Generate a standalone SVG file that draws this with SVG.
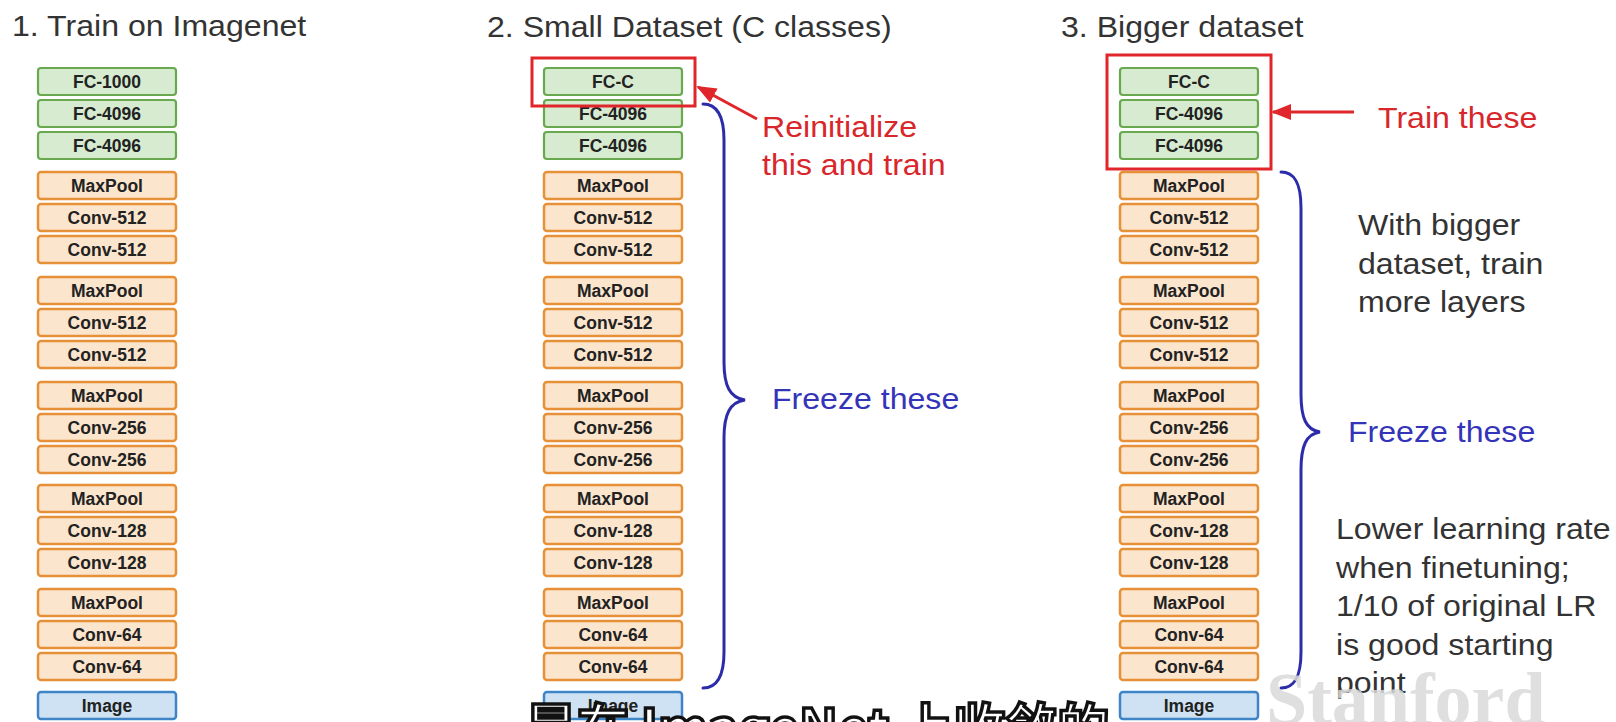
<svg xmlns="http://www.w3.org/2000/svg" width="1616" height="722" viewBox="0 0 1616 722">
<defs>
<style>
.bg{fill:#ffffff}
.fc{fill:#d6ebd0;stroke:#6aa84f;stroke-width:2.2}
.cv{fill:#fce5cd;stroke:#e69138;stroke-width:2.5}
.im{fill:#cfe2f3;stroke:#3d85c6;stroke-width:2.5}
.lbl{font-family:"Liberation Sans",Arial,sans-serif;font-weight:bold;font-size:17.5px;fill:#222;text-anchor:middle}
.big{font-family:"Liberation Sans",Arial,sans-serif;font-size:30px}
.ttl{fill:#333}
.blk{fill:#333}
.red{fill:#d9262b}
.blu{fill:#3434b8}
.redbox{fill:none;stroke:#e0262b;stroke-width:3}
.arrow{stroke:#e0262b;stroke-width:3;fill:none}
.brace{stroke:#2c2caa;stroke-width:3;fill:none;stroke-linecap:round}
</style>
<marker id="redhead" markerUnits="userSpaceOnUse" markerWidth="20" markerHeight="16" refX="18" refY="8" orient="auto">
<path d="M0,0 L20,8 L0,16 z" fill="#e0262b"/>
</marker>
</defs>
<rect class="bg" x="0" y="0" width="1616" height="722"/>

<!-- Titles -->
<g id="titles">
<text class="big ttl" transform="translate(12,36) scale(1.07,1)">1. Train on Imagenet</text>
<text class="big ttl" transform="translate(487,37) scale(1.07,1)">2. Small Dataset (C classes)</text>
<text class="big ttl" transform="translate(1061,37) scale(1.07,1)">3. Bigger dataset</text>
</g>

<!-- Column 1 -->
<g id="col1">
<g id="c1-fc1000"><rect class="fc" x="38" y="68" width="138" height="27" rx="3"/><text class="lbl" x="107" y="88">FC-1000</text></g>
<g id="c1-fc4096a"><rect class="fc" x="38" y="100" width="138" height="27" rx="3"/><text class="lbl" x="107" y="120">FC-4096</text></g>
<g id="c1-fc4096b"><rect class="fc" x="38" y="132" width="138" height="27" rx="3"/><text class="lbl" x="107" y="152">FC-4096</text></g>
<g id="c1-pool5"><rect class="cv" x="38" y="172" width="138" height="27" rx="3"/><text class="lbl" x="107" y="192">MaxPool</text></g>
<g id="c1-conv5b"><rect class="cv" x="38" y="204" width="138" height="27" rx="3"/><text class="lbl" x="107" y="224">Conv-512</text></g>
<g id="c1-conv5a"><rect class="cv" x="38" y="236" width="138" height="27" rx="3"/><text class="lbl" x="107" y="256">Conv-512</text></g>
<g id="c1-pool4"><rect class="cv" x="38" y="277" width="138" height="27" rx="3"/><text class="lbl" x="107" y="297">MaxPool</text></g>
<g id="c1-conv4b"><rect class="cv" x="38" y="309" width="138" height="27" rx="3"/><text class="lbl" x="107" y="329">Conv-512</text></g>
<g id="c1-conv4a"><rect class="cv" x="38" y="341" width="138" height="27" rx="3"/><text class="lbl" x="107" y="361">Conv-512</text></g>
<g id="c1-pool3"><rect class="cv" x="38" y="382" width="138" height="27" rx="3"/><text class="lbl" x="107" y="402">MaxPool</text></g>
<g id="c1-conv3b"><rect class="cv" x="38" y="414" width="138" height="27" rx="3"/><text class="lbl" x="107" y="434">Conv-256</text></g>
<g id="c1-conv3a"><rect class="cv" x="38" y="446" width="138" height="27" rx="3"/><text class="lbl" x="107" y="466">Conv-256</text></g>
<g id="c1-pool2"><rect class="cv" x="38" y="485" width="138" height="27" rx="3"/><text class="lbl" x="107" y="505">MaxPool</text></g>
<g id="c1-conv2b"><rect class="cv" x="38" y="517" width="138" height="27" rx="3"/><text class="lbl" x="107" y="537">Conv-128</text></g>
<g id="c1-conv2a"><rect class="cv" x="38" y="549" width="138" height="27" rx="3"/><text class="lbl" x="107" y="569">Conv-128</text></g>
<g id="c1-pool1"><rect class="cv" x="38" y="589" width="138" height="27" rx="3"/><text class="lbl" x="107" y="609">MaxPool</text></g>
<g id="c1-conv1b"><rect class="cv" x="38" y="621" width="138" height="27" rx="3"/><text class="lbl" x="107" y="641">Conv-64</text></g>
<g id="c1-conv1a"><rect class="cv" x="38" y="653" width="138" height="27" rx="3"/><text class="lbl" x="107" y="673">Conv-64</text></g>
<g id="c1-image"><rect class="im" x="38" y="692" width="138" height="27" rx="3"/><text class="lbl" x="107" y="712">Image</text></g>
</g>

<!-- Column 2 -->
<g id="col2">
<g id="c2-fcc"><rect class="fc" x="544" y="68" width="138" height="27" rx="3"/><text class="lbl" x="613" y="88">FC-C</text></g>
<g id="c2-fc4096a"><rect class="fc" x="544" y="100" width="138" height="27" rx="3"/><text class="lbl" x="613" y="120">FC-4096</text></g>
<g id="c2-fc4096b"><rect class="fc" x="544" y="132" width="138" height="27" rx="3"/><text class="lbl" x="613" y="152">FC-4096</text></g>
<g id="c2-pool5"><rect class="cv" x="544" y="172" width="138" height="27" rx="3"/><text class="lbl" x="613" y="192">MaxPool</text></g>
<g id="c2-conv5b"><rect class="cv" x="544" y="204" width="138" height="27" rx="3"/><text class="lbl" x="613" y="224">Conv-512</text></g>
<g id="c2-conv5a"><rect class="cv" x="544" y="236" width="138" height="27" rx="3"/><text class="lbl" x="613" y="256">Conv-512</text></g>
<g id="c2-pool4"><rect class="cv" x="544" y="277" width="138" height="27" rx="3"/><text class="lbl" x="613" y="297">MaxPool</text></g>
<g id="c2-conv4b"><rect class="cv" x="544" y="309" width="138" height="27" rx="3"/><text class="lbl" x="613" y="329">Conv-512</text></g>
<g id="c2-conv4a"><rect class="cv" x="544" y="341" width="138" height="27" rx="3"/><text class="lbl" x="613" y="361">Conv-512</text></g>
<g id="c2-pool3"><rect class="cv" x="544" y="382" width="138" height="27" rx="3"/><text class="lbl" x="613" y="402">MaxPool</text></g>
<g id="c2-conv3b"><rect class="cv" x="544" y="414" width="138" height="27" rx="3"/><text class="lbl" x="613" y="434">Conv-256</text></g>
<g id="c2-conv3a"><rect class="cv" x="544" y="446" width="138" height="27" rx="3"/><text class="lbl" x="613" y="466">Conv-256</text></g>
<g id="c2-pool2"><rect class="cv" x="544" y="485" width="138" height="27" rx="3"/><text class="lbl" x="613" y="505">MaxPool</text></g>
<g id="c2-conv2b"><rect class="cv" x="544" y="517" width="138" height="27" rx="3"/><text class="lbl" x="613" y="537">Conv-128</text></g>
<g id="c2-conv2a"><rect class="cv" x="544" y="549" width="138" height="27" rx="3"/><text class="lbl" x="613" y="569">Conv-128</text></g>
<g id="c2-pool1"><rect class="cv" x="544" y="589" width="138" height="27" rx="3"/><text class="lbl" x="613" y="609">MaxPool</text></g>
<g id="c2-conv1b"><rect class="cv" x="544" y="621" width="138" height="27" rx="3"/><text class="lbl" x="613" y="641">Conv-64</text></g>
<g id="c2-conv1a"><rect class="cv" x="544" y="653" width="138" height="27" rx="3"/><text class="lbl" x="613" y="673">Conv-64</text></g>
<g id="c2-image"><rect class="im" x="544" y="692" width="138" height="27" rx="3"/><text class="lbl" x="613" y="712">Image</text></g>
<g id="c2-trainbox"><rect class="redbox" x="532" y="58" width="163" height="48"/></g>
</g>

<!-- Column 3 -->
<g id="col3">
<g id="c3-fcc"><rect class="fc" x="1120" y="68" width="138" height="27" rx="3"/><text class="lbl" x="1189" y="88">FC-C</text></g>
<g id="c3-fc4096a"><rect class="fc" x="1120" y="100" width="138" height="27" rx="3"/><text class="lbl" x="1189" y="120">FC-4096</text></g>
<g id="c3-fc4096b"><rect class="fc" x="1120" y="132" width="138" height="27" rx="3"/><text class="lbl" x="1189" y="152">FC-4096</text></g>
<g id="c3-pool5"><rect class="cv" x="1120" y="172" width="138" height="27" rx="3"/><text class="lbl" x="1189" y="192">MaxPool</text></g>
<g id="c3-conv5b"><rect class="cv" x="1120" y="204" width="138" height="27" rx="3"/><text class="lbl" x="1189" y="224">Conv-512</text></g>
<g id="c3-conv5a"><rect class="cv" x="1120" y="236" width="138" height="27" rx="3"/><text class="lbl" x="1189" y="256">Conv-512</text></g>
<g id="c3-pool4"><rect class="cv" x="1120" y="277" width="138" height="27" rx="3"/><text class="lbl" x="1189" y="297">MaxPool</text></g>
<g id="c3-conv4b"><rect class="cv" x="1120" y="309" width="138" height="27" rx="3"/><text class="lbl" x="1189" y="329">Conv-512</text></g>
<g id="c3-conv4a"><rect class="cv" x="1120" y="341" width="138" height="27" rx="3"/><text class="lbl" x="1189" y="361">Conv-512</text></g>
<g id="c3-pool3"><rect class="cv" x="1120" y="382" width="138" height="27" rx="3"/><text class="lbl" x="1189" y="402">MaxPool</text></g>
<g id="c3-conv3b"><rect class="cv" x="1120" y="414" width="138" height="27" rx="3"/><text class="lbl" x="1189" y="434">Conv-256</text></g>
<g id="c3-conv3a"><rect class="cv" x="1120" y="446" width="138" height="27" rx="3"/><text class="lbl" x="1189" y="466">Conv-256</text></g>
<g id="c3-pool2"><rect class="cv" x="1120" y="485" width="138" height="27" rx="3"/><text class="lbl" x="1189" y="505">MaxPool</text></g>
<g id="c3-conv2b"><rect class="cv" x="1120" y="517" width="138" height="27" rx="3"/><text class="lbl" x="1189" y="537">Conv-128</text></g>
<g id="c3-conv2a"><rect class="cv" x="1120" y="549" width="138" height="27" rx="3"/><text class="lbl" x="1189" y="569">Conv-128</text></g>
<g id="c3-pool1"><rect class="cv" x="1120" y="589" width="138" height="27" rx="3"/><text class="lbl" x="1189" y="609">MaxPool</text></g>
<g id="c3-conv1b"><rect class="cv" x="1120" y="621" width="138" height="27" rx="3"/><text class="lbl" x="1189" y="641">Conv-64</text></g>
<g id="c3-conv1a"><rect class="cv" x="1120" y="653" width="138" height="27" rx="3"/><text class="lbl" x="1189" y="673">Conv-64</text></g>
<g id="c3-image"><rect class="im" x="1120" y="692" width="138" height="27" rx="3"/><text class="lbl" x="1189" y="712">Image</text></g>
<g id="c3-trainbox"><rect class="redbox" x="1107" y="55" width="164" height="114"/></g>
</g>

<!-- Connectors: arrows and braces -->
<g id="connectors">
<line class="arrow" x1="757" y1="119" x2="698" y2="87" marker-end="url(#redhead)"/>
<line class="arrow" x1="1354" y1="112" x2="1273" y2="112" marker-end="url(#redhead)"/>
<path class="brace" d="M703 104 C716 104 724 114 724 140 L724 362 C724 386 730 398 745 400 C730 402 724 414 724 438 L724 652 C724 678 716 688 703 688"/>
<path class="brace" d="M1281 172 C1294 172 1301 182 1301 208 L1301 394 C1301 418 1306 430 1320 432 C1306 434 1301 446 1301 470 L1301 652 C1301 678 1294 688 1281 688"/>
</g>

<!-- Annotations -->
<g id="note-reinit">
<text class="big red" transform="translate(762,137) scale(1.07,1)">Reinitialize</text>
<text class="big red" transform="translate(762,175) scale(1.07,1)">this and train</text>
</g>
<g id="note-freeze2">
<text class="big blu" transform="translate(772,409) scale(1.07,1)">Freeze these</text>
</g>
<g id="note-train3">
<text class="big red" transform="translate(1378,128) scale(1.07,1)">Train these</text>
</g>
<g id="note-bigger">
<text class="big blk" transform="translate(1358,235) scale(1.07,1)">With bigger</text>
<text class="big blk" transform="translate(1358,273.5) scale(1.07,1)">dataset, train</text>
<text class="big blk" transform="translate(1358,312) scale(1.07,1)">more layers</text>
</g>
<g id="note-freeze3">
<text class="big blu" transform="translate(1348,442) scale(1.07,1)">Freeze these</text>
</g>
<g id="note-lr">
<text class="big blk" transform="translate(1336,539) scale(1.07,1)">Lower learning rate</text>
<text class="big blk" transform="translate(1336,577.5) scale(1.07,1)">when finetuning;</text>
<text class="big blk" transform="translate(1336,616) scale(1.07,1)">1/10 of original LR</text>
<text class="big blk" transform="translate(1336,654.5) scale(1.07,1)">is good starting</text>
<text class="big blk" transform="translate(1336,693) scale(1.07,1)">point</text>
</g>

<!-- Watermark and cut-off subtitle -->
<text x="1266" y="724" font-family="Liberation Serif, serif" font-weight="bold" font-size="74" fill="#dadada" opacity="0.85">Stanford</text>
<text x="525" y="747" font-family="Noto Sans CJK SC, sans-serif" font-weight="bold" font-size="52" fill="#ffffff" stroke="#111111" stroke-width="3.5">是在 ImageNet 上收敛的</text>
</svg>
